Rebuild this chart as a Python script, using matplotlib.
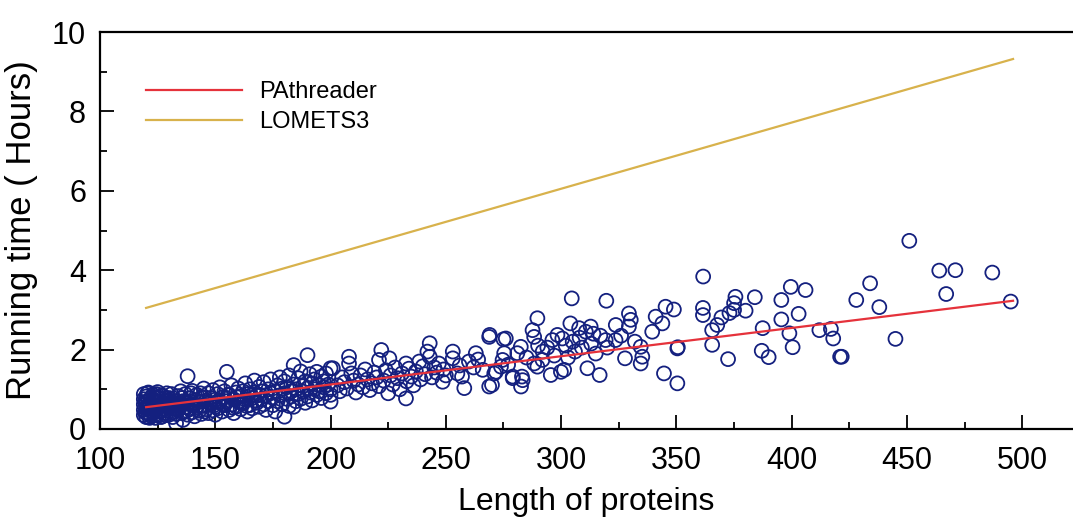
import numpy as np
import matplotlib
matplotlib.use("Agg")
import matplotlib.pyplot as plt
from matplotlib.ticker import MultipleLocator

plt.rcParams["font.family"] = ["Liberation Sans", "DejaVu Sans"]

# (length, hours), grouped by length range
pts_119_130 = [
    (119, 0.35), (119, 0.48), (119, 0.62), (119, 0.75), (119, 0.88),
    (120, 0.30), (120, 0.42), (120, 0.55), (120, 0.68), (120, 0.82),
    (121, 0.38), (121, 0.52), (121, 0.70), (121, 0.92),
    (122, 0.33), (122, 0.46), (122, 0.60), (122, 0.78),
    (123, 0.40), (123, 0.57), (123, 0.72), (123, 0.86),
    (124, 0.28), (124, 0.50), (124, 0.66),
    (125, 0.36), (125, 0.55), (125, 0.80), (125, 0.93),
    (126, 0.45), (126, 0.62), (126, 0.74),
    (127, 0.32), (127, 0.58), (127, 0.85),
    (128, 0.40), (128, 0.52), (128, 0.70),
    (129, 0.47), (129, 0.64), (129, 0.90),
    (130, 0.36), (130, 0.60), (130, 0.78),
]
pts_dense_extra = [
    (119.5, 0.42), (119.5, 0.68), (120.5, 0.50), (120.5, 0.90), (121.5, 0.62),
    (121.5, 0.28), (122.5, 0.72), (122.5, 0.52), (123.5, 0.35), (123.5, 0.80),
    (124.5, 0.60), (124.5, 0.88), (125.5, 0.45), (125.5, 0.70), (126.5, 0.30),
    (126.5, 0.84), (127.5, 0.50), (127.5, 0.66), (128.5, 0.78), (128.5, 0.35),
    (129.5, 0.55), (129.5, 0.72), (131.5, 0.58), (131.5, 0.30), (132.5, 0.70),
    (133.5, 0.50), (134.5, 0.66), (135.5, 0.40), (135.5, 0.78), (137.5, 0.46),
    (137.5, 0.70), (139.5, 0.62), (139.5, 0.90), (141.5, 0.50), (143.5, 0.58),
    (143.5, 0.90), (145.5, 0.44), (145.5, 0.80), (147.5, 0.66), (149.5, 0.60),
    (151.5, 0.72), (153.5, 0.62), (155.5, 0.86), (157.5, 0.54), (159.5, 0.80),
    (161.5, 0.66), (163.5, 0.58), (165.5, 0.85), (167.5, 0.72), (169.5, 0.86),
]
pts_131_150 = [
    (131, 0.42), (131, 0.68), (131, 0.88), (132, 0.52), (132, 0.77),
    (133, 0.14), (133, 0.38), (133, 0.62), (134, 0.48), (134, 0.83),
    (135, 0.58), (135, 0.95), (136, 0.23), (136, 0.44), (136, 0.70),
    (137, 0.55), (137, 0.88), (138, 1.33), (138, 0.36), (138, 0.64),
    (139, 0.50), (139, 0.78), (140, 0.42), (140, 0.60), (140, 0.96),
    (141, 0.72), (141, 0.32), (142, 0.55), (142, 0.86), (143, 0.46),
    (143, 0.68), (144, 0.38), (144, 0.80), (145, 0.58), (145, 1.02),
    (146, 0.50), (146, 0.72), (147, 0.40), (147, 0.90), (148, 0.62),
    (148, 0.78), (149, 0.47), (149, 0.98), (150, 0.56), (150, 0.74),
    (150, 0.36),
]
pts_151_175 = [
    (151, 0.88), (151, 0.52), (152, 0.66), (152, 1.05), (153, 0.44),
    (153, 0.80), (154, 0.60), (154, 0.95), (155, 1.44), (155, 0.70),
    (156, 0.48), (156, 0.86), (157, 0.62), (157, 1.10), (158, 0.75),
    (158, 0.40), (159, 0.92), (159, 0.56), (160, 0.68), (160, 1.02),
    (161, 0.82), (161, 0.50), (162, 0.95), (162, 0.64), (163, 0.74),
    (163, 1.15), (164, 0.44), (164, 0.88), (165, 0.60), (165, 1.00),
    (166, 0.78), (166, 0.52), (167, 0.92), (167, 1.22), (168, 0.66),
    (168, 0.84), (169, 0.56), (169, 1.06), (170, 0.74), (170, 0.95),
    (171, 0.62), (171, 1.18), (172, 0.85), (172, 0.48), (173, 1.00),
    (173, 0.70), (174, 0.90), (174, 1.25), (175, 0.60), (175, 0.80),
]
pts_176_200 = [
    (176, 0.44), (176, 0.95), (177, 1.10), (177, 0.70), (178, 0.85),
    (178, 1.30), (179, 0.62), (179, 1.02), (180, 0.31), (180, 0.90),
    (180, 1.20), (181, 0.76), (181, 1.05), (182, 0.58), (182, 1.35),
    (183, 0.95), (183, 0.82), (184, 0.56), (184, 1.61), (184, 1.12),
    (185, 0.70), (185, 1.00), (186, 0.88), (186, 1.28), (187, 1.45),
    (187, 0.76), (188, 1.08), (188, 0.94), (189, 0.66), (189, 1.20),
    (190, 1.86), (190, 1.02), (190, 0.82), (191, 1.38), (191, 0.92),
    (192, 1.15), (192, 0.72), (193, 1.00), (193, 1.25), (194, 1.44),
    (194, 0.86), (195, 1.10), (195, 0.95), (196, 1.32), (196, 0.78),
    (197, 1.05), (197, 1.20), (198, 0.90), (198, 1.40), (199, 1.12),
    (200, 0.69), (200, 1.53), (200, 0.86), (200, 1.00),
]
pts_201_250 = [
    (201, 1.53), (208, 1.82), (208, 1.65), (222, 1.99), (221, 1.74),
    (225.5, 1.78), (232.7, 1.65), (238.5, 1.70), (243, 2.16), (242, 1.95),
    (243, 1.82), (225, 0.90), (232.7, 0.77), (248.6, 1.19),
    (203, 1.10), (204, 0.95), (205, 1.30), (206, 1.18), (207, 1.02),
    (209, 1.40), (210, 1.22), (211, 0.92), (212, 1.12), (213, 1.35),
    (214, 1.05), (215, 1.50), (216, 1.25), (217, 0.98), (218, 1.15),
    (219, 1.42), (220, 1.30), (221, 1.08), (223, 1.22), (224, 1.48),
    (226, 1.35), (227, 1.12), (228, 1.55), (229, 1.28), (230, 1.00),
    (231, 1.40), (233, 1.20), (234, 1.52), (235, 1.32), (236, 1.10),
    (237, 1.45), (239, 1.25), (240, 1.58), (241, 1.38), (244, 1.30),
    (245, 1.55), (246, 1.42), (247, 1.65), (249, 1.50), (250, 1.35),
]
pts_251_300 = [
    (253, 1.95), (253, 1.78), (258, 1.03), (263, 1.91), (268.8, 2.32),
    (268.8, 1.07), (255, 1.40), (257, 1.32), (266, 1.49), (271.7, 1.44),
    (276, 2.28), (269, 2.37), (275, 2.26), (270, 1.11), (271, 1.40),
    (279, 1.28), (282.5, 2.07), (281, 1.91), (275.3, 1.91), (274.6, 1.74),
    (273.9, 1.57), (279, 1.32), (283.3, 1.23), (282.6, 1.07), (289.7, 2.79),
    (287.6, 2.49), (288.3, 2.32), (296.2, 2.24), (298.4, 2.37), (300.5, 2.28),
    (295.5, 1.36), (299.9, 1.44), (288.3, 1.65), (289.7, 1.57), (291.9, 1.74),
    (283, 1.32), (256, 1.60), (260, 1.70), (262, 1.55), (264, 1.75),
    (277, 1.62), (285, 1.80), (292, 1.95), (294, 2.05), (297, 1.85),
    (290, 2.10),
]
pts_301_360 = [
    (304.6, 3.29), (319.6, 3.23), (304, 2.66), (307.8, 2.54), (310.7, 2.45),
    (312.8, 2.58), (311.4, 1.53), (316.7, 1.36), (301.3, 1.49), (319.3, 2.24),
    (323.6, 2.24), (323.7, 2.62), (329.4, 2.91), (330.2, 2.75), (329.4, 2.58),
    (332, 2.20), (334.5, 2.07), (335.2, 1.82), (334.5, 1.65), (327.7, 1.78),
    (341, 2.83), (343.9, 2.66), (339.5, 2.45), (345.3, 3.08), (348.9, 3.01),
    (350.6, 2.06), (344.6, 1.40), (350.4, 1.15), (350.4, 2.03),
    (302, 2.10), (305, 2.20), (306, 1.95), (308, 2.30), (309, 2.05),
    (313, 2.15), (315, 1.90), (317, 2.35), (303, 1.80), (314, 2.40),
    (320, 2.05), (326, 2.35),
]
pts_361_500 = [
    (361.6, 3.84), (361.5, 3.05), (361.5, 2.87), (375.6, 3.33), (375, 3.17),
    (375, 3.00), (373, 2.92), (380, 2.98), (384, 3.32), (369.5, 2.81),
    (367.7, 2.62), (365.5, 2.49), (365.5, 2.12), (372.4, 1.76), (387.4, 2.54),
    (387, 1.97), (390, 1.81), (395.5, 3.25), (399.6, 3.58), (406, 3.50),
    (403, 2.90), (395.5, 2.76), (399, 2.41), (400.4, 2.06), (412, 2.49),
    (417, 2.52), (418, 2.28), (421.7, 1.82), (421, 1.82), (434, 3.67),
    (428, 3.25), (438, 3.07), (445, 2.27), (451, 4.74), (464, 3.99),
    (471, 4.00), (487, 3.94), (467, 3.40), (495, 3.21),
]

# fitted lines (end points)
fit_len = [120, 496]
pathreader_fit = [0.55, 3.23]
lomets3_fit = [3.05, 9.32]

scatter_pts = (pts_119_130 + pts_dense_extra + pts_131_150 + pts_151_175
               + pts_176_200 + pts_201_250 + pts_251_300 + pts_301_360
               + pts_361_500)
lengths = np.array([p[0] for p in scatter_pts])
hours = np.array([p[1] for p in scatter_pts])

fig = plt.figure(figsize=(10.73, 5.24), dpi=100)
ax = fig.add_axes([100 / 1073, 95 / 524, 973 / 1073, 397 / 524])

ax.scatter(lengths, hours, s=100, facecolors="none", edgecolors="#14207f",
           linewidths=1.3, zorder=2)
ax.plot(fit_len, pathreader_fit, color="#e5323b", lw=1.6, zorder=3,
        label="PAthreader")
ax.plot(fit_len, lomets3_fit, color="#d8b24c", lw=1.6, zorder=3,
        label="LOMETS3")

ax.set_xlim(100, 522)
ax.set_ylim(0, 10)
ax.xaxis.set_major_locator(MultipleLocator(50))
ax.xaxis.set_minor_locator(MultipleLocator(25))
ax.yaxis.set_major_locator(MultipleLocator(2))
ax.yaxis.set_minor_locator(MultipleLocator(1))
ax.tick_params(which="major", direction="in", length=10, width=1.3,
               labelsize=22)
ax.tick_params(axis="x", which="major", pad=12)
ax.tick_params(axis="y", which="major", pad=10)
ax.tick_params(which="minor", direction="in", length=5, width=1.3)
ax.spines["right"].set_visible(False)
for s in ("left", "bottom", "top"):
    ax.spines[s].set_linewidth(1.6)

ax.set_xlabel("Length of proteins", fontsize=23, labelpad=8)
ax.set_ylabel("Running time ( Hours)", fontsize=25, labelpad=10)

ax.legend(loc="upper left", bbox_to_anchor=(0.025, 0.93), frameon=False,
          fontsize=17, handlelength=4.1, labelspacing=0.35,
          handletextpad=0.7)

fig.savefig("out.png", dpi=100)
